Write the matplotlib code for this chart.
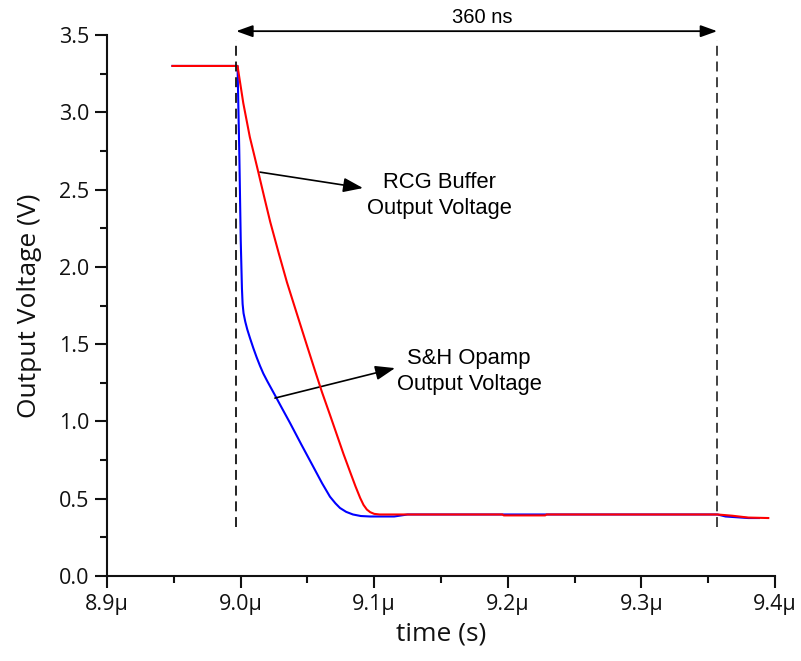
import matplotlib
matplotlib.use("Agg")
import matplotlib.pyplot as plt
from matplotlib.ticker import MultipleLocator, FuncFormatter

# RCG buffer output (red), time in microseconds, voltage in volts
t_rcg = [8.949, 8.9977, 9.0020, 9.0069, 9.0100, 9.0132, 9.0180, 9.0222, 9.0285,
         9.0347, 9.0420, 9.0497, 9.0560, 9.0609, 9.0670, 9.0722, 9.0770, 9.0819,
         9.0860, 9.0895, 9.0920, 9.0945, 9.0970, 9.1000, 9.1040, 9.196, 9.197,
         9.228, 9.229, 9.357, 9.368, 9.380, 9.395]
v_rcg = [3.30, 3.30, 3.06, 2.84, 2.73, 2.615, 2.44, 2.29, 2.09,
         1.90, 1.70, 1.49, 1.32, 1.19, 1.04, 0.91, 0.79, 0.675,
         0.58, 0.505, 0.46, 0.43, 0.413, 0.402, 0.398, 0.398, 0.392,
         0.392, 0.398, 0.398, 0.39, 0.378, 0.375]

# S&H opamp output (blue)
t_sh = [8.949, 8.9977, 8.9990, 9.0001, 9.0010, 9.0015, 9.0022, 9.0035, 9.0050,
        9.0070, 9.0095, 9.0120, 9.0145, 9.0170, 9.0200, 9.0257, 9.0310, 9.0370,
        9.0455, 9.0542, 9.0610, 9.0669, 9.0710, 9.0744, 9.0790, 9.0841, 9.0900,
        9.0969, 9.115, 9.125, 9.357, 9.363, 9.380, 9.388]
v_sh = [3.30, 3.30, 2.75, 2.17, 1.86, 1.76, 1.70, 1.645, 1.595,
        1.54, 1.475, 1.415, 1.36, 1.31, 1.26, 1.17, 1.085, 0.99,
        0.85, 0.71, 0.60, 0.513, 0.47, 0.44, 0.415, 0.398, 0.388,
        0.385, 0.385, 0.398, 0.398, 0.385, 0.375, 0.375]

# settling window markers
t_window_start = 8.9967
window_ns = 360
t_window_end = t_window_start + window_ns / 1000.0

x_ticks = [8.9, 9.0, 9.1, 9.2, 9.3, 9.4]
y_ticks = [0.0, 0.5, 1.0, 1.5, 2.0, 2.5, 3.0, 3.5]

tick_font = "Open Sans"
note_font = "Liberation Sans"

fig = plt.figure(figsize=(8.01, 6.61), dpi=100)
ax = fig.add_axes([0.1336, 0.1286, 0.8339, 0.8184])

ax.plot(t_sh, v_sh, color="#0000ff", lw=1.5, zorder=3)
ax.plot(t_rcg, v_rcg, color="#ff0000", lw=1.5, zorder=4)

ax.set_xlim(x_ticks[0], x_ticks[-1])
ax.set_ylim(y_ticks[0], y_ticks[-1])

# dashed window boundaries
for tx, col in [(t_window_start, "#111111"), (t_window_end, "#333333")]:
    ax.plot([tx, tx], [0.32, 3.47], ls=(0, (5.5, 3.2)), color=col, lw=1.3,
            clip_on=False, zorder=5)

# double-headed span arrow
ax.annotate("", xy=(t_window_start, 3.525), xytext=(t_window_end, 3.525),
            xycoords="data", textcoords="data", annotation_clip=False,
            arrowprops=dict(arrowstyle="<|-|>,head_length=0.5,head_width=0.18",
                            mutation_scale=20, lw=1.3, color="black",
                            shrinkA=0, shrinkB=0))
ax.text((t_window_start + t_window_end) / 2 + 0.004, 3.615, f"{window_ns} ns",
        ha="center", va="center", fontsize=14.5, family=note_font, clip_on=False)

# curve callouts
arrow_kw = dict(arrowstyle="-|>,head_length=0.6,head_width=0.22",
                mutation_scale=20, lw=1.2, color="black", shrinkA=0, shrinkB=0)
ax.annotate("", xy=(9.0916, 2.510), xytext=(9.0145, 2.613), arrowprops=arrow_kw)
ax.text(9.1489, 2.461, "RCG Buffer\nOutput Voltage", ha="center", va="center",
        fontsize=15.8, family=note_font, linespacing=1.35)
ax.annotate("", xy=(9.1156, 1.345), xytext=(9.0257, 1.151), arrowprops=arrow_kw)
ax.text(9.1710, 1.323, "S&H Opamp\nOutput Voltage", ha="center", va="center",
        fontsize=15.8, family=note_font, linespacing=1.35)

# axes styling
for side in ("top", "right"):
    ax.spines[side].set_visible(False)
for side in ("left", "bottom"):
    ax.spines[side].set_linewidth(1.5)
    ax.spines[side].set_color("#111111")

ax.xaxis.set_major_locator(MultipleLocator(0.1))
ax.xaxis.set_minor_locator(MultipleLocator(0.05))
ax.yaxis.set_major_locator(MultipleLocator(0.5))
ax.yaxis.set_minor_locator(MultipleLocator(0.25))
ax.xaxis.set_major_formatter(FuncFormatter(lambda v, p: f"{v:.1f}\u03bc"))
ax.yaxis.set_major_formatter(FuncFormatter(lambda v, p: f"{v:.1f}"))

ax.tick_params(which="major", direction="out", length=8.5, width=1.5,
               color="#111111", labelsize=15.5, pad=4.5)
ax.tick_params(which="minor", direction="out", length=5, width=1.5,
               color="#111111")
for lab in ax.get_xticklabels() + ax.get_yticklabels():
    lab.set_family(tick_font)
    lab.set_color("#111111")

ax.set_xlabel("time (s)", family=tick_font, fontsize=19, labelpad=5,
              color="#111111")
ax.set_ylabel("Output Voltage (V)", family=tick_font, fontsize=19, labelpad=12,
              color="#111111")

fig.savefig("out.png", dpi=100)
